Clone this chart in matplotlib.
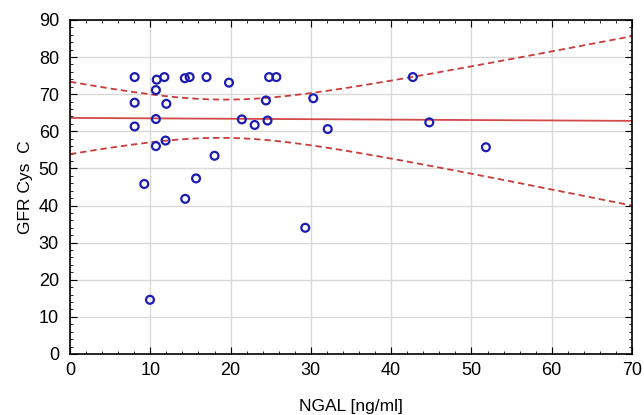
import numpy as np
import matplotlib.pyplot as plt
from matplotlib.ticker import MultipleLocator

plt.rcParams['font.family'] = ['Liberation Sans', 'DejaVu Sans']

# NGAL [ng/ml] vs GFR Cys C
ngal = [8.05, 10.8, 11.75, 14.3, 14.9, 17.0, 19.8, 24.8, 25.7, 10.7,
        8.05, 12.0, 24.4, 30.3, 10.7, 21.4, 23.0, 24.6, 32.1, 8.05,
        10.7, 11.9, 18.0, 9.25, 15.7, 14.35, 9.96, 29.3, 42.7, 44.75, 51.8]
gfr = [74.6, 73.9, 74.6, 74.3, 74.6, 74.6, 73.1, 74.6, 74.6, 71.1,
       67.7, 67.4, 68.3, 68.9, 63.3, 63.2, 61.7, 62.9, 60.6, 61.3,
       56.0, 57.5, 53.4, 45.8, 47.3, 41.8, 14.6, 34.0, 74.6, 62.4, 55.7]

# regression line and 95% band as shown in the reference
fit_intercept = 63.6
fit_slope = -0.0114
band_center = 19.0      # x where band is narrowest
band_half_min = 5.15    # half-width there
band_curv = 0.190       # growth of squared half-width

xx = np.linspace(0, 70, 200)
fit = fit_intercept + fit_slope * xx
half = np.sqrt(band_half_min**2 + band_curv * (xx - band_center)**2)

fig = plt.figure(figsize=(6.44, 4.15), dpi=100)
ax = fig.add_axes([0.1087, 0.147, 0.8727, 0.805])

ax.grid(True, color='#d9d9d9', linewidth=1.0)
ax.set_axisbelow(True)

ax.plot(xx, fit, color='#d24a4a', linewidth=1.3)
ax.plot(xx, fit + half, color='#c83c3c', linewidth=1.3, linestyle=(0, (3.5, 2.2)))
ax.plot(xx, fit - half, color='#c83c3c', linewidth=1.3, linestyle=(0, (3.5, 2.2)))

ax.scatter(ngal, gfr, s=32, facecolors='none', edgecolors='#1c1cb0', linewidths=1.6, zorder=3)

ax.set_xlim(0, 70)
ax.set_ylim(0, 90)
ax.xaxis.set_major_locator(MultipleLocator(10))
ax.yaxis.set_major_locator(MultipleLocator(10))
ax.xaxis.set_minor_locator(MultipleLocator(2))
ax.yaxis.set_minor_locator(MultipleLocator(2))
ax.tick_params(which='both', direction='in', top=True, right=True, labelsize=13)
ax.tick_params(axis='y', pad=8)
ax.tick_params(axis='x', pad=6)
ax.tick_params(which='major', length=5)
ax.tick_params(which='minor', length=2.5)
for sp in ax.spines.values():
    sp.set_linewidth(1.2)

ax.set_xlabel('NGAL [ng/ml]', fontsize=12.5, labelpad=14)
ax.set_ylabel('GFR Cys  C', fontsize=12.5, labelpad=4)

fig.savefig('out.png', dpi=100)
